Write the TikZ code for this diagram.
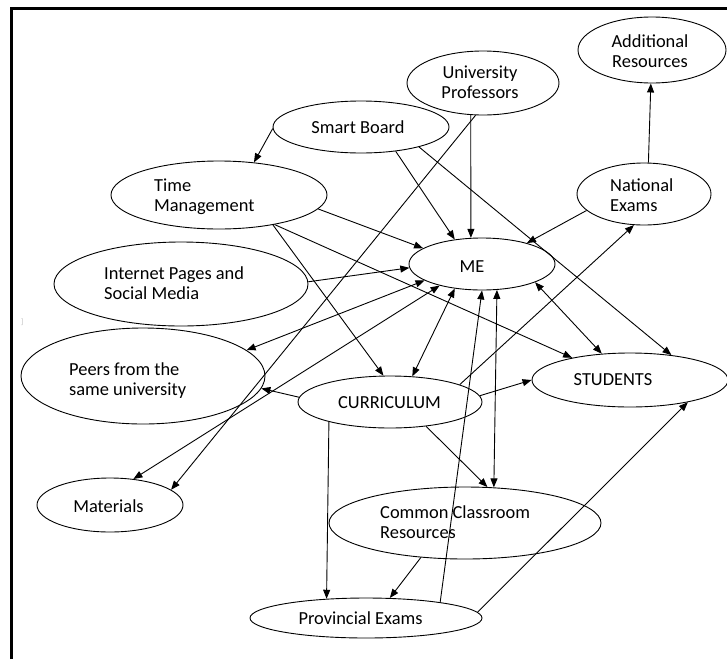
\documentclass[tikz,border=0pt]{standalone}
\usepackage{fontspec}
\setmainfont{Carlito}
\usetikzlibrary{shapes.geometric,arrows.meta}
\begin{document}
\begin{tikzpicture}[x=1pt,y=-1pt,
  oval/.style={draw,ellipse,inner sep=0pt,line width=0.9pt},
  lbl/.style={inner sep=0pt,font=\fontsize{18.4}{19.5}\selectfont},
  con/.style={line width=0.9pt,-{Triangle[length=9pt,width=7pt]}},
  bicon/.style={line width=0.9pt,{Triangle[length=9pt,width=7pt]}-{Triangle[length=9pt,width=7pt]}}]
\useasboundingbox (0,0) rectangle (727,659);
% frame
\draw[line width=3pt] (11.5,659) |- (727,8.5);
% ellipses
\node[oval,minimum width=148pt,minimum height=66pt] (AR) at (652,50) {};
\node[oval,minimum width=152pt,minimum height=64pt] (UP) at (483,83) {};
\node[oval,minimum width=176pt,minimum height=52pt] (SB) at (361,127) {};
\node[oval,minimum width=216pt,minimum height=68pt] (TM) at (219,195) {};
\node[oval,minimum width=254pt,minimum height=84pt] (IP) at (181,284) {};
\node[oval,minimum width=146pt,minimum height=52pt] (ME) at (482,264) {};
\node[oval,minimum width=134pt,minimum height=62pt] (NE) at (644,194) {};
\node[oval,minimum width=244pt,minimum height=96pt] (PE) at (143,376) {};
\node[oval,minimum width=184pt,minimum height=52pt] (CU) at (390,402) {};
\node[oval,minimum width=196pt,minimum height=54pt] (ST) at (630,380) {};
\node[oval,minimum width=146pt,minimum height=54pt] (MA) at (110,505) {};
\node[oval,minimum width=272pt,minimum height=72pt] (CC) at (465,523) {};
\node[oval,minimum width=232pt,minimum height=40pt] (PR) at (366,618) {};
% labels (multi-line: anchor at baseline of last line)
\node[lbl,anchor=base,align=center] (ARt) at (650,67) {Additional\\Resources};
\node[lbl,anchor=base,align=center] (UPt) at (480,98) {University\\Professors};
\node[lbl,anchor=base] (SBt) at (358,133) {Smart Board};
\node[lbl,anchor=base west,align=left] (TMt) at (154,211) {Time\\Management};
\node[lbl,anchor=base west,align=left] (IPt) at (104,299) {Internet Pages and\\Social Media};
\node[lbl,anchor=base] (MEt) at (472,272) {ME};
\node[lbl,anchor=base west,align=left] (NEt) at (610,211) {National\\Exams};
\node[lbl,anchor=base west,align=left] (PEt) at (69,395) {Peers from the\\same university};
\node[lbl,anchor=base] (CUt) at (389.5,408) {CURRICULUM};
\node[lbl,anchor=base] (STt) at (613,385) {STUDENTS};
\node[lbl,anchor=base] (MAt) at (108.5,512) {Materials};
\node[lbl,anchor=base west,align=left] (CCt) at (380,538) {Common Classroom\\Resources};
\node[lbl,anchor=base] (PRt) at (360.5,624) {Provincial Exams};
\node[inner sep=0pt,text=black!25,font=\fontsize{8}{8}\selectfont] (br) at (22,322) {]};
% connectors
\draw[con] (SB.181) -- (TM.43);
\draw[con] (SB.325) -- (ME.138);
\draw[con] (SB.341) -- (ST.31);
\draw[con] (UP.249) -- (ME.113);
\draw[con] (UP.257) -- (MA.14);
\draw[con] (TM.352) -- (ME.165);
\draw[con] (TM.332) -- (ST.159);
\draw[con] (TM.331) -- (CU.104);
\draw[con] (IP.1) -- (ME.183);
\draw[bicon] (ME.196) -- (PE.14);
\draw[bicon] (ME.207) -- (MA.48);
\draw[bicon] (ME.222) -- (CU.49);
\draw[con] (PR.12) -- (ME.270);
\draw[bicon] (ME.300) -- (CC.51);
\draw[bicon] (ME.341) -- (ST.137);
\draw[con] (CU.14) -- (NE.252);
\draw[con] (NE.196) -- (ME.25);
\draw[con] (NE.82) -- (AR.268);
\draw[con] (CU.4) -- (ST.180);
\draw[con] (CU.177) -- (PE.354);
\draw[con] (CU.198) -- (PR.154);
\draw[con] (CU.326) -- (CC.58);
\draw[con] (CC.218) -- (PR.40);
\draw[con] (PR.3) -- (ST.339);
\end{tikzpicture}
\end{document}
